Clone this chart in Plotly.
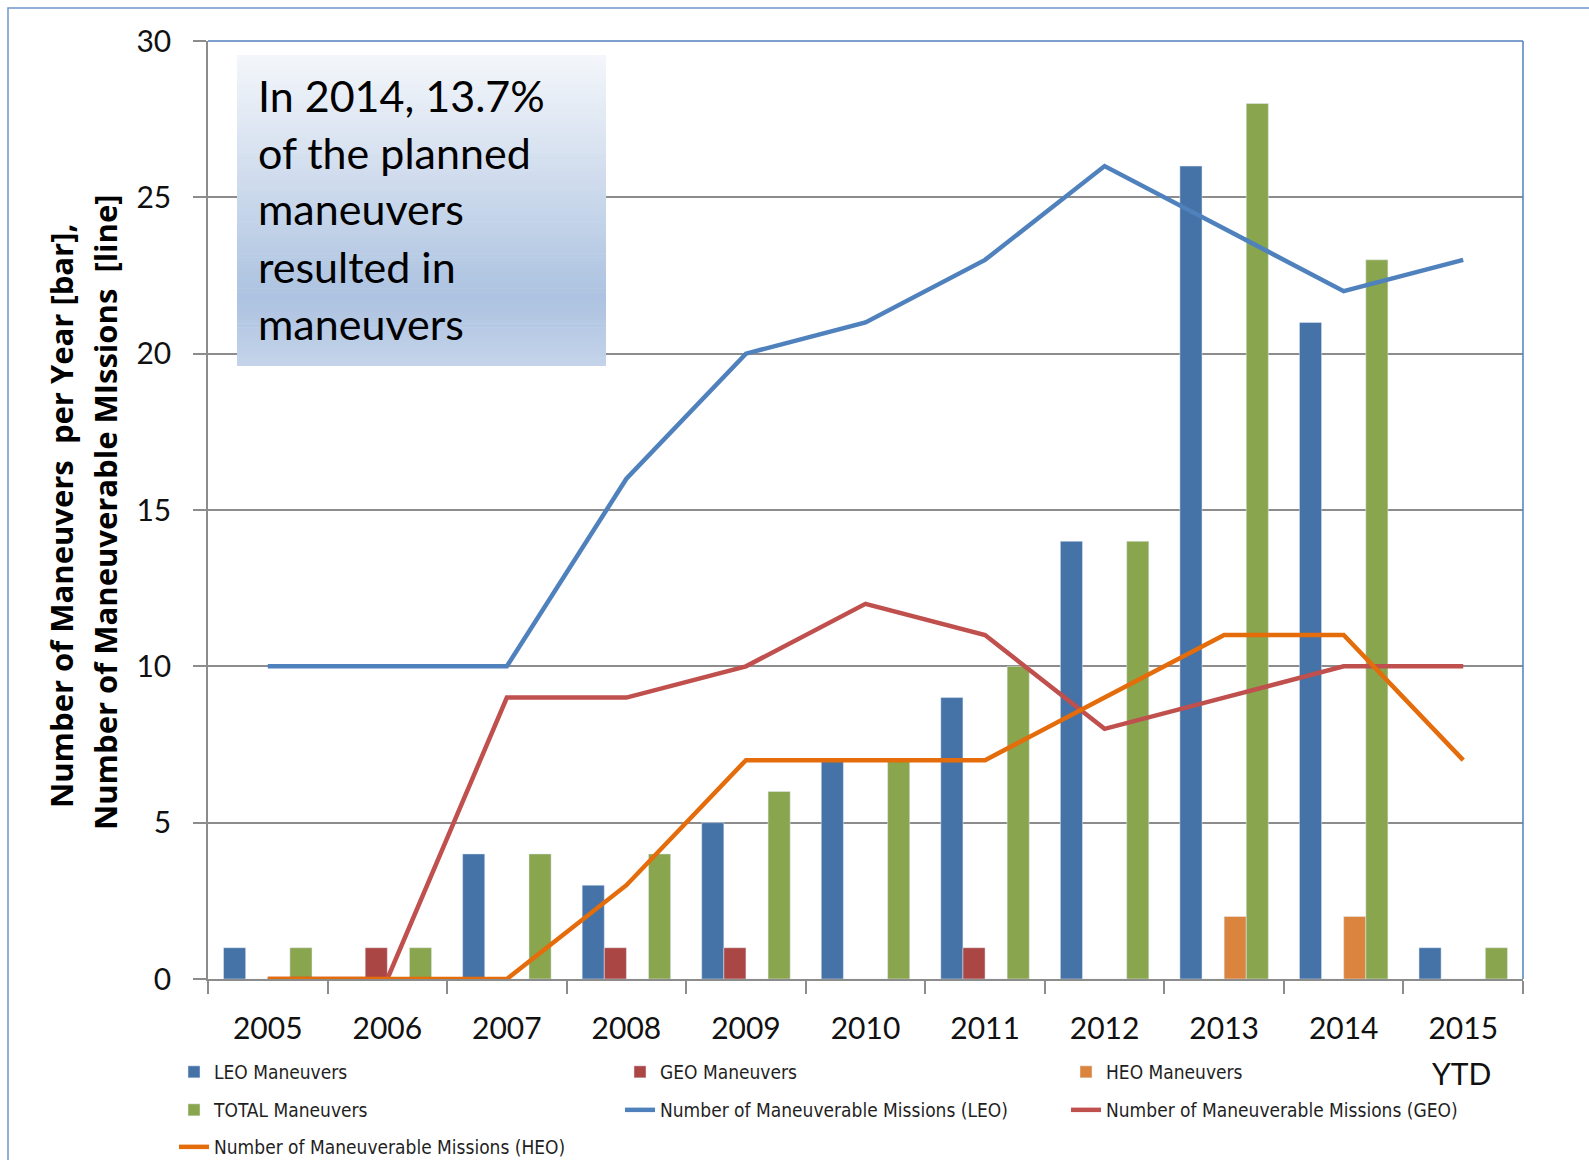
import plotly.graph_objects as go

years = ["2005", "2006", "2007", "2008", "2009", "2010", "2011", "2012", "2013", "2014", "2015"]
leo_man = [1, 0, 4, 3, 5, 7, 9, 14, 26, 21, 1]
geo_man = [0, 1, 0, 1, 1, 0, 1, 0, 0, 0, 0]
heo_man = [0, 0, 0, 0, 0, 0, 0, 0, 2, 2, 0]
total_man = [1, 1, 4, 4, 6, 7, 10, 14, 28, 23, 1]
leo_missions = [10, 10, 10, 16, 20, 21, 23, 26, 24, 22, 23]
geo_missions = [0, 0, 9, 9, 10, 12, 11, 8, 9, 10, 10]
heo_missions = [0, 0, 0, 3, 7, 7, 7, 9, 11, 11, 7]
y_ticks = [0, 5, 10, 15, 20, 25, 30]
box_lines = ["In 2014, 13.7%", "of the planned", "maneuvers", "resulted in", "maneuvers"]

W, H = 1589, 1160
L, R, T, B = 208, 1523, 41, 979


def px(x):
    return (x - L) / (R - L)


def py(y):
    return (B - y) / (B - T)


TICKFONT = dict(family="Lato, Open Sans, sans-serif", size=30, color="#111111")
LEGFONT = dict(family="DejaVu Sans Condensed, Open Sans, sans-serif", size=19, color="#1f1f1f")

# legend slot for each trace (column x of text start, row y center)
leg_cols = [214, 660, 1106]
leg_rows = [1072, 1110, 1147]

fig = go.Figure()
fig.add_trace(go.Bar(x=years, y=leo_man, name="LEO Maneuvers", marker_color="#4572a7", legend="legend"))
fig.add_trace(go.Bar(x=years, y=geo_man, name="GEO Maneuvers", marker_color="#aa4643", legend="legend2"))
fig.add_trace(go.Bar(x=years, y=heo_man, name="HEO Maneuvers", marker_color="#db843d", legend="legend3"))
fig.add_trace(go.Bar(x=years, y=total_man, name="TOTAL Maneuvers", marker_color="#89a54e", legend="legend4"))
fig.add_trace(go.Scatter(x=years, y=leo_missions, mode="lines", name="Number of Maneuverable Missions (LEO)",
                         line=dict(color="#4f81bd", width=4.5), legend="legend5"))
fig.add_trace(go.Scatter(x=years, y=geo_missions, mode="lines", name="Number of Maneuverable Missions (GEO)",
                         line=dict(color="#c0504d", width=4.5), legend="legend6"))
fig.add_trace(go.Scatter(x=years, y=heo_missions, mode="lines", name="Number of Maneuverable Missions (HEO)",
                         line=dict(color="#e46c0a", width=4.5), legend="legend7"))

shapes = []
# gradient text box
bx0, bx1, by0, by1 = 237, 606, 55, 366
top_c = (244, 247, 251)
mid_c = (173, 195, 225)
bot_c = (197, 212, 234)
n = 80
for i in range(n):
    f = (i + 0.5) / n
    if f < 0.78:
        g = f / 0.78
        c = tuple(int(top_c[k] + (mid_c[k] - top_c[k]) * g) for k in range(3))
    else:
        g = (f - 0.78) / 0.22
        c = tuple(int(mid_c[k] + (bot_c[k] - mid_c[k]) * g) for k in range(3))
    ya = by0 + (by1 - by0) * i / n
    yb = by0 + (by1 - by0) * (i + 1) / n + 0.6
    shapes.append(dict(type="rect", xref="paper", yref="paper", x0=px(bx0), x1=px(bx1),
                       y0=py(ya), y1=py(min(yb, by1)), fillcolor="rgb(%d,%d,%d)" % c,
                       line=dict(width=0), layer="above"))
# plot border top/right (blue)
shapes.append(dict(type="line", xref="paper", yref="paper", x0=0, x1=1, y0=1, y1=1,
                   line=dict(color="#4f81bd", width=1.5), layer="above"))
shapes.append(dict(type="line", xref="paper", yref="paper", x0=1, x1=1, y0=0, y1=1,
                   line=dict(color="#4f81bd", width=1.5), layer="above"))
# outer border
shapes.append(dict(type="rect", xref="paper", yref="paper", x0=px(8), x1=px(1620), y0=py(1200), y1=py(8),
                   line=dict(color="#6f97cb", width=1.5), fillcolor="rgba(0,0,0,0)", layer="above"))

annotations = []
for i, line in enumerate(box_lines):
    annotations.append(dict(text=line, xref="paper", yref="paper", x=px(256), y=py(95 + 57 * i),
                            xanchor="left", yanchor="middle", showarrow=False,
                            font=dict(family="Lato, Open Sans, sans-serif", size=43, color="#000000")))
annotations.append(dict(text="Number of Maneuvers  per Year [bar],", xref="paper", yref="paper",
                        x=px(61), y=py(516), textangle=-90, showarrow=False,
                        xanchor="center", yanchor="middle",
                        font=dict(family="Open Sans, Lato, sans-serif", size=31, color="#000000", weight="bold")))
annotations.append(dict(text="Number of Maneuverable MIssions  [line]", xref="paper", yref="paper",
                        x=px(105), y=py(512), textangle=-90, showarrow=False,
                        xanchor="center", yanchor="middle",
                        font=dict(family="Open Sans, Lato, sans-serif", size=31, color="#000000", weight="bold")))
annotations.append(dict(text="YTD", xref="paper", yref="paper", x=px(1461), y=py(1073), showarrow=False,
                        xanchor="center", yanchor="middle", font=TICKFONT))

legends = {}
for k in range(7):
    key = "legend" if k == 0 else "legend%d" % (k + 1)
    col = k % 3
    row = k // 3
    legends[key] = dict(orientation="h", xref="container", yref="container", xanchor="left",
                        yanchor="middle", font=LEGFONT, bgcolor="rgba(0,0,0,0)",
                        itemclick=False, itemdoubleclick=False,
                        x=(leg_cols[col] - 40) / W, y=1 - leg_rows[row] / H)

fig.update_layout(
    width=W, height=H,
    margin=dict(l=L, r=W - R, t=T, b=H - B, pad=0, autoexpand=False),
    paper_bgcolor="white", plot_bgcolor="white",
    barmode="group", bargap=0.26, bargroupgap=0,
    showlegend=True,
    xaxis=dict(type="category", categoryorder="array", categoryarray=years,
               tickson="boundaries", ticks="outside", ticklen=13, tickcolor="#8c8c8c", tickwidth=1.5,
               showline=True, linecolor="#8c8c8c", linewidth=1.5, showgrid=False,
               tickfont=TICKFONT, ticklabelstandoff=22, range=[-0.5, 10.5], automargin=False),
    yaxis=dict(range=[0, 30], tickvals=y_ticks, ticks="outside", ticklen=13, tickcolor="#8c8c8c",
               tickwidth=1.5, showline=True, linecolor="#8c8c8c", linewidth=1.5,
               showgrid=True, gridcolor="#8c8c8c", gridwidth=1.5, zeroline=False,
               tickfont=TICKFONT, ticklabelstandoff=16, automargin=False),
    shapes=shapes,
    annotations=annotations,
    **legends,
)

fig.write_html("out.html", config={"displayModeBar": False},
               post_script="document.body.style.margin='0';document.body.style.overflow='hidden';")
